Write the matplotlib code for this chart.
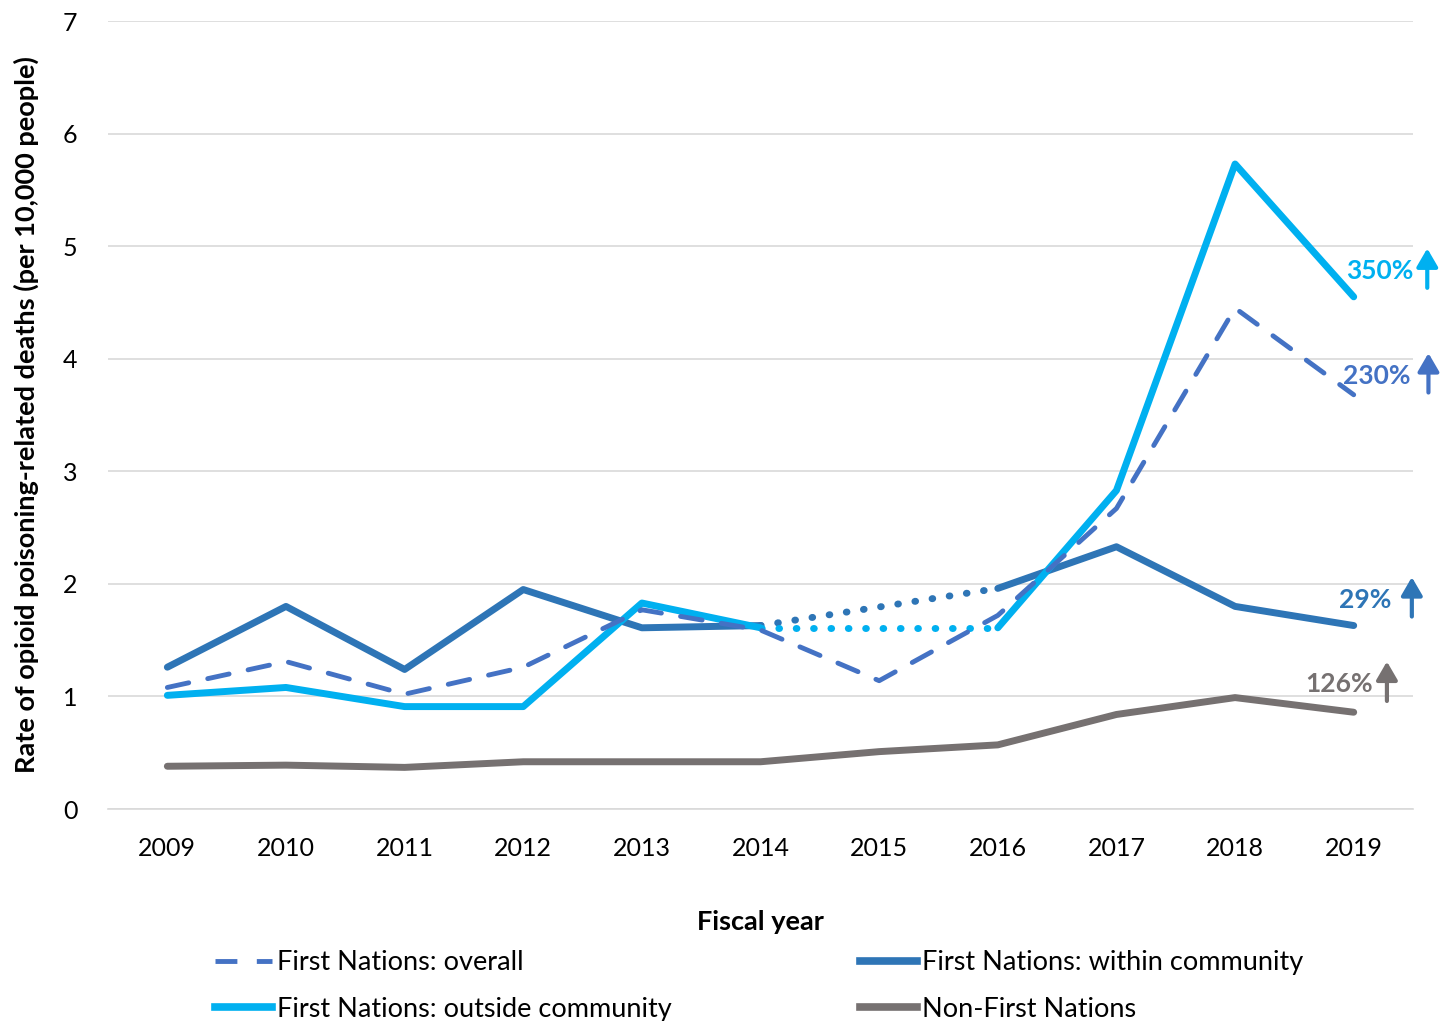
import numpy as np
import matplotlib.pyplot as plt
from matplotlib.lines import Line2D

plt.rcParams['font.family'] = ['Lato', 'DejaVu Sans']

years = [2009, 2010, 2011, 2012, 2013, 2014, 2015, 2016, 2017, 2018, 2019]
overall = [1.08, 1.31, 1.02, 1.26, 1.77, 1.59, 1.14, 1.72, 2.67, 4.45, 3.68]
within = [1.26, 1.80, 1.24, 1.95, 1.61, 1.63, np.nan, 1.96, 2.33, 1.80, 1.63]
outside = [1.01, 1.08, 0.91, 0.91, 1.83, 1.61, np.nan, 1.61, 2.83, 5.73, 4.55]
non_fn = [0.38, 0.39, 0.37, 0.42, 0.42, 0.42, 0.51, 0.57, 0.84, 0.99, 0.86]

changes = ['350%', '230%', '29%', '126%']

c_overall = '#4472C4'
c_within = '#2E75B6'
c_outside = '#00B0F0'
c_non = '#767171'

fig = plt.figure(figsize=(14.5, 10.21), dpi=100)
ax = fig.add_axes([0.0745, 0.2076, 0.9, 0.7718])

x = np.arange(len(years))

def draw_gap_series(vals, color):
    vals = np.array(vals, dtype=float)
    ax.plot(x, vals, color=color, lw=5, solid_capstyle='round', zorder=3)
    # dotted bridge across the missing year
    for g in np.where(np.isnan(vals))[0]:
        ax.plot([x[g - 1], x[g + 1]], [vals[g - 1], vals[g + 1]], color=color,
                lw=5, linestyle=(0, (0.1, 2.4)), dash_capstyle='round', zorder=3)

ax.plot(x, non_fn, color=c_non, lw=5, solid_capstyle='round', zorder=3)
draw_gap_series(within, c_within)
ax.plot(x, overall, color=c_overall, lw=3.5, linestyle=(0, (4.5, 4)),
        dash_capstyle='round', zorder=4)
draw_gap_series(outside, c_outside)

ax.set_xlim(-0.5, len(years) - 0.5)
ax.set_ylim(0, 7)
ax.set_xticks(x)
ax.set_xticklabels(years)
ax.set_yticks(range(0, 8))
ax.tick_params(axis='both', length=0, labelsize=18, colors='black')
ax.tick_params(axis='x', pad=20)
ax.tick_params(axis='y', pad=22)
ax.grid(axis='y', color='#D9D9D9', lw=1.2)
ax.set_axisbelow(True)
for s in ['top', 'right', 'left']:
    ax.spines[s].set_visible(False)
ax.spines['bottom'].set_color('#D9D9D9')
ax.spines['bottom'].set_linewidth(1.2)

ax.set_ylabel('Rate of opioid poisoning-related deaths (per 10,000 people)',
              fontsize=19.5, fontweight='bold', labelpad=17)
ax.set_xlabel('Fiscal year', fontsize=19.5, fontweight='bold', labelpad=36)

# percent change labels with up arrows (text right edge, arrow x, y centre)
ann = [
    (changes[0], c_outside, 10.50, 10.62, 4.78),
    (changes[1], c_overall, 10.48, 10.63, 3.85),
    (changes[2], c_within, 10.32, 10.49, 1.86),
    (changes[3], c_non, 10.16, 10.28, 1.11),
]
for txt, col, tx, axx, yv in ann:
    ax.text(tx, yv, txt, color=col, fontsize=19, fontweight='bold',
            ha='right', va='center', clip_on=False)
    ax.annotate('', xy=(axx, yv + 0.2), xytext=(axx, yv - 0.15),
                arrowprops=dict(arrowstyle='-|>,head_width=0.32,head_length=0.55',
                                mutation_scale=20, color=col, lw=3,
                                shrinkA=0, shrinkB=0),
                annotation_clip=False)

h_overall = Line2D([], [], color=c_overall, lw=3.5, linestyle=(0, (4.5, 4)))
h_outside = Line2D([], [], color=c_outside, lw=5.5)
h_within = Line2D([], [], color=c_within, lw=5.5)
h_non = Line2D([], [], color=c_non, lw=5.5)

leg_kw = dict(loc='upper left', frameon=False, fontsize=19.5, handlelength=2.1,
              handletextpad=0.2, labelspacing=0.8, borderpad=0, borderaxespad=0)
fig.legend([h_overall, h_outside],
           ['First Nations: overall', 'First Nations: outside community'],
           bbox_to_anchor=(215 / 1450, 1 - 950 / 1021), **leg_kw)
fig.legend([h_within, h_non],
           ['First Nations: within community', 'Non-First Nations'],
           bbox_to_anchor=(860 / 1450, 1 - 950 / 1021), **leg_kw)

fig.savefig('out.png', dpi=100)
